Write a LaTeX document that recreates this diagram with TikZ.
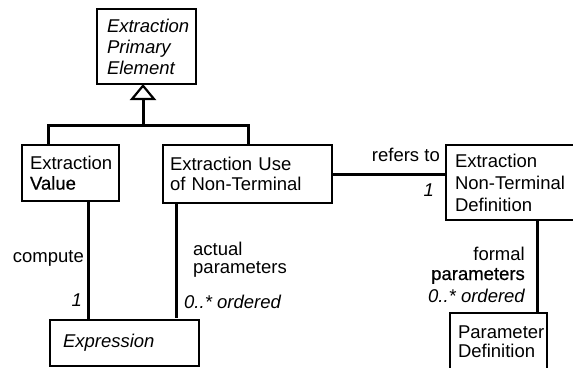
\documentclass[tikz,border=0pt]{standalone}
\usepackage{fontspec}
\setmainfont{Liberation Sans}
\newfontfamily\heavyfont[FakeBold=0.6]{Liberation Sans}
\usetikzlibrary{arrows.meta,calc}
\hyphenpenalty=10000
\exhyphenpenalty=10000
\begin{document}
\begin{tikzpicture}[x=1pt,y=-1pt,
  every node/.style={font=\fontsize{18.5}{20}\selectfont},
  classbox/.style={draw, line width=2.4pt, rectangle, anchor=north west,
    align=left, outer sep=0pt, inner ysep=0pt},
  link/.style={line width=3pt},
  lbl/.style={inner sep=0pt, align=left}]
\clip (0,0) rectangle (573,367);

% classes
\node[classbox, minimum width=99, minimum height=75, inner xsep=10,
  text width=79, font=\fontsize{18.5}{21}\selectfont\itshape]
  (top) at (97,9) {Extraction\\Primary\\Element};
\node[classbox, minimum width=97, minimum height=56, inner xsep=8,
  text width=81] (val) at (22,145) {Extraction\\{\heavyfont Value}};
\node[classbox, minimum width=169, minimum height=58, inner xsep=7,
  text width=155] (use) at (163,145) {Extraction Use\\of \mbox{Non-Terminal}};
\node[classbox, minimum width=131, minimum height=75, inner xsep=9,
  text width=113, font=\fontsize{18.5}{22}\selectfont]
  (nt) at (446,145) {Extraction\\\mbox{Non-Terminal}\\Definition};
\node[classbox, minimum width=149, minimum height=46, inner xsep=13,
  text width=123, font=\fontsize{18.5}{20}\selectfont\itshape]
  (expr) at (50,320) {Expression};
\node[classbox, minimum width=97, minimum height=58, inner xsep=8,
  text width=81, font=\fontsize{18.5}{19}\selectfont]
  (pd) at (450,313) {Parameter\\Definition};

% attachment points of the connectors
\coordinate (hub) at (143,125);
\coordinate (valtop) at ($(val.north west)+(26,0)$);
\coordinate (usetop) at ($(use.north west)+(85,0)$);
\coordinate (valbot) at ($(val.south west)+(66,0)$);
\coordinate (usebot) at ($(use.south west)+(13.5,0)$);
\coordinate (ntbot) at ($(nt.south west)+(91,0)$);

% generalization
\draw[link, -{Triangle[open, length=16pt, width=26pt, line width=2.2pt]}]
  (hub) -- (hub |- top.south);
\draw[link] (valtop) |- (hub) -| (usetop);

% associations
\draw[link] (valbot) -- (valbot |- expr.north);
\draw[link, shorten >=2pt] (usebot) -- (usebot |- expr.north);
\draw[link] (use.east) -- (use.east -| nt.west);
\draw[link] (ntbot) -- (ntbot |- pd.north);

% association labels
\node[lbl, anchor=base east] (lcompute) at (84,262) {compute};
\node[lbl, anchor=base east, font=\fontsize{18.5}{20}\selectfont\itshape]
  (lone) at (82,306) {1};
\node[lbl, anchor=base west] (lactual) at (193,255) {actual};
\node[lbl, anchor=base west] (lactualp) at (193,273) {parameters};
\node[lbl, anchor=base west, font=\fontsize{18.5}{20}\selectfont\itshape]
  (lactualm) at (184,308) {0..* ordered};
\node[lbl, anchor=base east] (lrefers) at (440,161) {refers to};
\node[lbl, anchor=base east, font=\fontsize{18.5}{20}\selectfont\itshape]
  (lrefone) at (434,196) {1};
\node[lbl, anchor=base east] (lformal) at (525,260) {formal};
\node[lbl, anchor=base east] (lformalp) at (525,280) {\heavyfont parameters};
\node[lbl, anchor=base east, font=\fontsize{18.5}{20}\selectfont\itshape]
  (lformalm) at (525,302) {0..* ordered};
\end{tikzpicture}
\end{document}
